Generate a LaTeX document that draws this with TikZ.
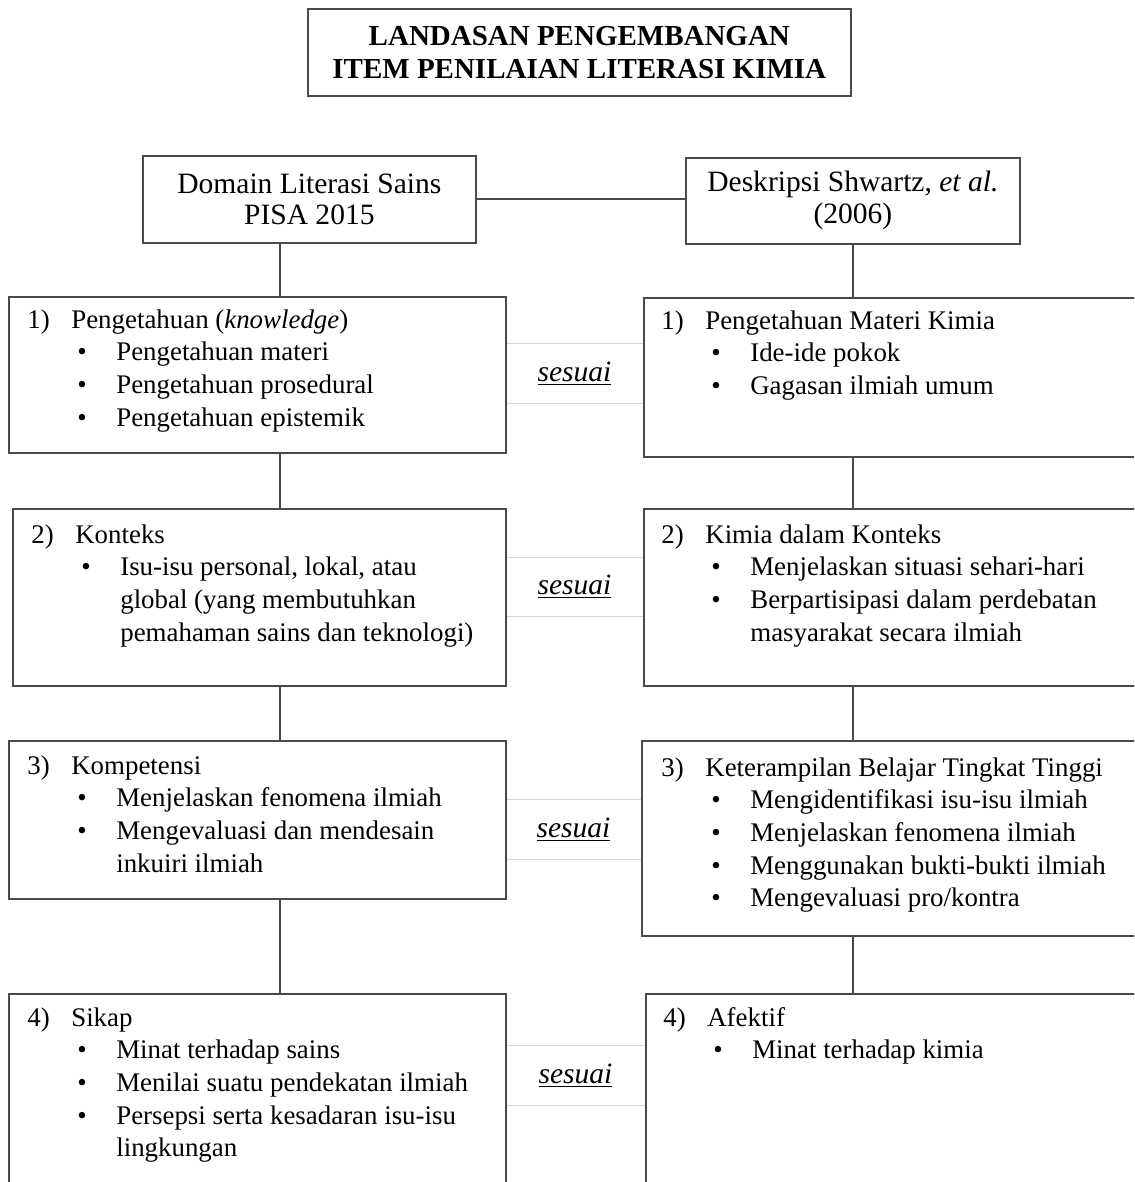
\documentclass[tikz,border=0pt]{standalone}
\usepackage{fontspec}
\setmainfont{Liberation Serif}[BoldFont={Liberation Serif Bold},
  ItalicFont={Liberation Serif Italic}]
\usepackage{tikz}
\usetikzlibrary{positioning}
\definecolor{garisAbu}{HTML}{4A4A4A}
\definecolor{garisMuda}{HTML}{D6D6D6}
\newcommand{\isifont}{\fontsize{15.3}{18.6}\selectfont}
\newcommand{\kepalafont}{\fontsize{16.8}{18.2}\selectfont}
\newcommand{\judulfont}{\fontsize{16.5}{18.8}\selectfont\bfseries}
\newcommand{\nomor}[2]{\strut\makebox[0.88cm][l]{#1}#2}
\newcommand{\butir}[1]{\hspace*{1.0cm}\makebox[0.78cm][l]{\textbullet}#1}
\newcommand{\lanjut}[1]{\hspace*{1.78cm}#1}

\begin{document}
\begin{tikzpicture}[
  x=0.02cm, y=-0.02cm,
  kotak/.style={draw=garisAbu, line width=1pt, inner sep=0pt, anchor=north west},
  cocok/.style={draw=garisMuda, line width=0.5pt, inner sep=0pt, anchor=north west,
                font=\kepalafont},
  isi/.style={anchor=north west, align=left, inner sep=0pt, font=\isifont},
  garis/.style={draw=garisAbu, line width=1pt},
]
\useasboundingbox (0,0) rectangle (1134,1182);
\clip (0,0) rectangle (1134,1182);

\node[cocok, minimum width=2.76cm, minimum height=1.2cm] (s1) at (505,343) {\underline{\textit{sesuai}}};
\node[cocok, minimum width=2.76cm, minimum height=1.18cm] (s2) at (505,557) {\underline{\textit{sesuai}}};
\node[cocok, minimum width=2.72cm, minimum height=1.2cm] (s3) at (505,799) {\underline{\textit{sesuai}}};
\node[cocok, minimum width=2.8cm, minimum height=1.2cm] (s4) at (505,1045) {\underline{\textit{sesuai}}};

\node[kotak, minimum width=10.86cm, minimum height=1.74cm, font=\judulfont, align=center]
  (judul) at (307,8) {LANDASAN PENGEMBANGAN\\ITEM PENILAIAN LITERASI KIMIA};
\node[kotak, minimum width=6.66cm, minimum height=1.74cm, font=\kepalafont, align=center]
  (domain) at (142,155) {Domain Literasi Sains\\PISA 2015};
\node[kotak, minimum width=6.68cm, minimum height=1.72cm, font=\kepalafont, align=center]
  (shwartz) at (685,157) {Deskripsi Shwartz, \textit{et al.}\\(2006)};

\node[kotak, minimum width=9.94cm, minimum height=3.12cm] (k1) at (8,296) {};
\node[kotak, minimum width=10.34cm, minimum height=3.18cm] (r1) at (643,297) {};
\node[kotak, minimum width=9.86cm, minimum height=3.54cm] (k2) at (12,508) {};
\node[kotak, minimum width=10.34cm, minimum height=3.54cm] (r2) at (643,508) {};
\node[kotak, minimum width=9.94cm, minimum height=3.16cm] (k3) at (8,740) {};
\node[kotak, minimum width=10.38cm, minimum height=3.9cm] (r3) at (641,740) {};
\node[kotak, minimum width=9.94cm, minimum height=4.4cm] (k4) at (8,993) {};
\node[kotak, minimum width=10.3cm, minimum height=4.4cm] (r4) at (645,993) {};

\node[isi] (tk1) at (27,305) {\nomor{1)}{Pengetahuan (\textit{knowledge})}\\
  \butir{Pengetahuan materi}\\
  \butir{Pengetahuan prosedural}\\
  \butir{Pengetahuan epistemik}};
\node[isi] (tr1) at (661,306) {\nomor{1)}{Pengetahuan Materi Kimia}\\
  \butir{Ide-ide pokok}\\
  \butir{Gagasan ilmiah umum}};
\node[isi] (tk2) at (31,520) {\nomor{2)}{Konteks}\\
  \butir{Isu-isu personal, lokal, atau}\\
  \lanjut{global (yang membutuhkan}\\
  \lanjut{pemahaman sains dan teknologi)}};
\node[isi] (tr2) at (661,520) {\nomor{2)}{Kimia dalam Konteks}\\
  \butir{Menjelaskan situasi sehari-hari}\\
  \butir{Berpartisipasi dalam perdebatan}\\
  \lanjut{masyarakat secara ilmiah}};
\node[isi] (tk3) at (27,751) {\nomor{3)}{Kompetensi}\\
  \butir{Menjelaskan fenomena ilmiah}\\
  \butir{Mengevaluasi dan mendesain}\\
  \lanjut{inkuiri ilmiah}};
\node[isi] (tr3) at (661,753) {\nomor{3)}{Keterampilan Belajar Tingkat Tinggi}\\
  \butir{Mengidentifikasi isu-isu ilmiah}\\
  \butir{Menjelaskan fenomena ilmiah}\\
  \butir{Menggunakan bukti-bukti ilmiah}\\
  \butir{Mengevaluasi pro/kontra}};
\node[isi] (tk4) at (27,1003) {\nomor{4)}{Sikap}\\
  \butir{Minat terhadap sains}\\
  \butir{Menilai suatu pendekatan ilmiah}\\
  \butir{Persepsi serta kesadaran isu-isu}\\
  \lanjut{lingkungan}};
\node[isi] (tr4) at (663,1003) {\nomor{4)}{Afektif}\\
  \butir{Minat terhadap kimia}};

\coordinate (kiri) at (280,0);
\draw[garis] (domain.east) -- (domain.east -| shwartz.west);
\draw[garis] (domain.south -| kiri) -- (k1.north -| kiri);
\draw[garis] (k1.south -| kiri) -- (k2.north -| kiri);
\draw[garis] (k2.south -| kiri) -- (k3.north -| kiri);
\draw[garis] (k3.south -| kiri) -- (k4.north -| kiri);
\draw[garis] (shwartz.south) -- (r1.north -| shwartz.south);
\draw[garis] (r1.south -| shwartz.south) -- (r2.north -| shwartz.south);
\draw[garis] (r2.south -| shwartz.south) -- (r3.north -| shwartz.south);
\draw[garis] (r3.south -| shwartz.south) -- (r4.north -| shwartz.south);
\end{tikzpicture}
\end{document}
